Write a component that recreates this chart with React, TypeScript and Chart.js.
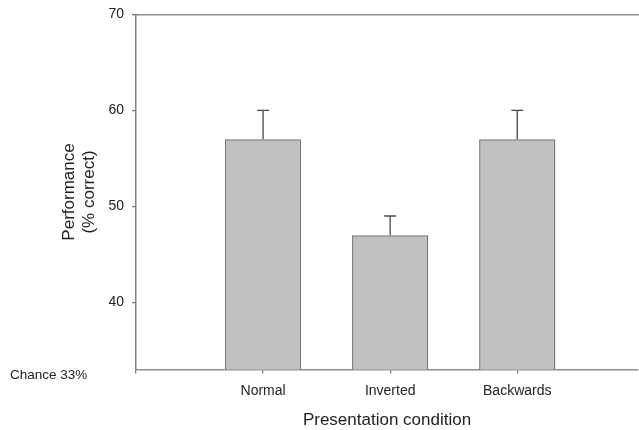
import React, { useEffect, useRef } from "react";
import { Chart, registerables } from "chart.js";

Chart.register(...registerables);

const categories = ["Normal", "Inverted", "Backwards"];
const positions = [1, 2, 3];
const means = [57, 47, 57];
const errors = [3, 2, 3];
const yTicks = [40, 50, 60, 70];
const chanceLevel = 33;
const chanceLabel = "Chance 33%";
const xTitle = "Presentation condition";
const yTitle = ["Performance", "(% correct)"];

const FONT = "'Liberation Sans', Arial, Helvetica, sans-serif";

const errorBarPlugin = {
  id: "errorBars",
  afterDatasetsDraw(chart: any) {
    const { ctx, scales } = chart;
    const xs = scales.x;
    const ys = scales.y;
    ctx.save();
    ctx.strokeStyle = "#4a4a4a";
    ctx.lineWidth = 1.3;
    positions.forEach((p, i) => {
      const x = xs.getPixelForValue(p);
      const y0 = ys.getPixelForValue(means[i]);
      const y1 = ys.getPixelForValue(means[i] + errors[i]);
      ctx.beginPath();
      ctx.moveTo(x, y0);
      ctx.lineTo(x, y1);
      ctx.moveTo(x - 6, y1);
      ctx.lineTo(x + 6, y1);
      ctx.stroke();
    });
    ctx.restore();
  },
  afterDraw(chart: any) {
    const { ctx, scales } = chart;
    const y = scales.y.getPixelForValue(chanceLevel) + 6;
    ctx.save();
    ctx.font = `13.5px ${FONT}`;
    ctx.fillStyle = "#222";
    ctx.textAlign = "left";
    ctx.textBaseline = "middle";
    ctx.fillText(chanceLabel, 10, y);
    ctx.restore();
  },
};

export default function App() {
  const ref = useRef<HTMLCanvasElement | null>(null);

  useEffect(() => {
    if (!ref.current) return;
    const chart = new Chart(ref.current, {
      type: "bar",
      data: {
        datasets: [
          {
            data: positions.map((p, i) => ({ x: p, y: means[i] })),
            backgroundColor: "#c0c0c0",
            borderColor: "#757575",
            borderWidth: 1.5,
            barPercentage: 0.6,
            categoryPercentage: 1,
          },
        ],
      },
      options: {
        animation: false,
        responsive: false,
        events: [],
        layout: { padding: { left: 0, right: 1, top: 14.5, bottom: 0 } },
        plugins: {
          legend: { display: false },
          tooltip: { enabled: false },
          title: { display: false },
        },
        scales: {
          x: {
            type: "linear",
            position: "bottom",
            offset: false,
            min: 0,
            max: 3.95,
            afterBuildTicks: (scale: any) => {
              scale.ticks = [0, ...positions].map((v) => ({ value: v }));
            },
            afterFit: (scale: any) => {
              scale.height = 60.5;
              scale.paddingLeft = 0;
              scale.paddingRight = 0;
            },
            ticks: {
              callback: (v: any) => {
                const i = positions.indexOf(Number(v));
                return i >= 0 ? categories[i] : "";
              },
              font: { family: FONT, size: 14 },
              color: "#222",
              padding: 9,
              maxRotation: 0,
              autoSkip: false,
            },
            grid: {
              offset: false,
              drawOnChartArea: false,
              drawTicks: true,
              tickLength: 4,
              color: "#777",
              lineWidth: 1.3,
            },
            border: { display: true, color: "#8f8f8f", width: 1.5 },
            title: {
              display: true,
              text: xTitle,
              font: { family: FONT, size: 17, lineHeight: 1.1 },
              color: "#222",
              padding: { top: 0, bottom: 0 },
            },
          },
          x2: {
            type: "linear",
            position: "top",
            offset: false,
            min: 0,
            max: 1,
            afterFit: (scale: any) => {
              scale.height = 0;
              scale.paddingLeft = 0;
              scale.paddingRight = 0;
            },
            ticks: { display: false },
            grid: { display: false, drawTicks: false, offset: false },
            border: { display: true, color: "#8f8f8f", width: 1.5 },
          },
          y: {
            type: "linear",
            min: chanceLevel,
            max: 70,
            afterBuildTicks: (scale: any) => {
              scale.ticks = yTicks.map((v) => ({ value: v }));
            },
            afterFit: (scale: any) => {
              scale.width = 136;
              scale.paddingTop = 0;
              scale.paddingBottom = 0;
            },
            ticks: {
              font: { family: FONT, size: 14 },
              color: "#222",
              padding: 8,
            },
            grid: {
              drawOnChartArea: false,
              drawTicks: true,
              tickLength: 4,
              color: "#777",
              lineWidth: 1.3,
            },
            border: { display: true, color: "#7f7f7f", width: 1.5 },
            title: {
              display: true,
              text: yTitle,
              font: { family: FONT, size: 17, lineHeight: 1.2 },
              color: "#222",
              padding: { top: 59, bottom: 0 },
            },
          },
        },
      },
      plugins: [errorBarPlugin],
    } as any);
    return () => chart.destroy();
  }, []);

  return (
    <div style={{ position: "fixed", left: 0, top: 0, width: 639, height: 430, background: "#fff" }}>
      <canvas ref={ref} width={639} height={430} style={{ display: "block" }} />
    </div>
  );
}
